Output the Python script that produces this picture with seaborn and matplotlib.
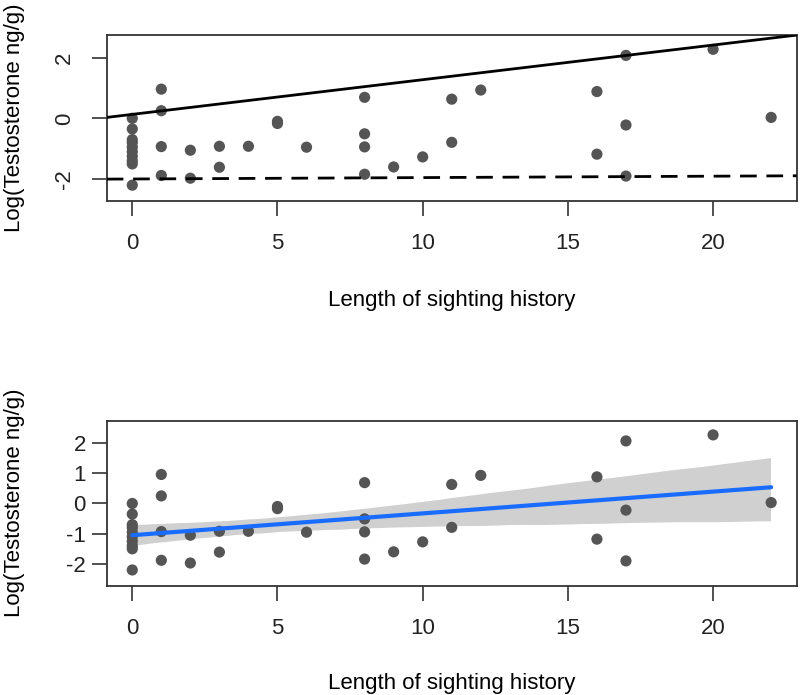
import numpy as np
import pandas as pd
import matplotlib
matplotlib.use('Agg')
import matplotlib.pyplot as plt
import seaborn as sns

# sighting history (years) and log testosterone
history = [0, 0, 0, 0, 0, 0, 0, 0, 0, 0,
           1, 1, 1, 1,
           2, 2,
           3, 3,
           4,
           5, 5,
           6,
           8, 8, 8, 8,
           9,
           10,
           11, 11,
           12,
           16, 16,
           17, 17, 17,
           20,
           22]
log_testo = [0.0, -0.35, -0.7, -0.8, -0.95, -1.1, -1.25, -1.4, -1.5, -2.2,
             0.96, 0.25, -0.93, -1.88,
             -1.05, -1.97,
             -0.92, -1.61,
             -0.92,
             -0.1, -0.17,
             -0.95,
             0.69, -0.51, -0.94, -1.84,
             -1.6,
             -1.27,
             0.63, -0.79,
             0.93,
             0.88, -1.18,
             2.07, -0.22, -1.9,
             2.27,
             0.03]

# reference lines in the upper panel (intercept, slope)
upper_line = [0.13, 0.114]
lower_line = [-1.996, 0.0046]

xticks = [0, 5, 10, 15, 20]

df = pd.DataFrame({'history': history, 'log_testo': log_testo})

sns.set_style('white')
plt.rcParams['font.family'] = ['Liberation Sans', 'DejaVu Sans']
plt.rcParams['axes.unicode_minus'] = False
plt.rcParams['text.color'] = 'black'
plt.rcParams['axes.labelcolor'] = 'black'
plt.rcParams['xtick.color'] = '#222222'
plt.rcParams['ytick.color'] = '#222222'

fig = plt.figure(figsize=(8, 6.95), dpi=100)
ax1 = fig.add_axes([0.1334, 0.7108, 0.8625, 0.2388])
ax2 = fig.add_axes([0.1334, 0.1573, 0.8625, 0.2374])

pt_col = '#555555'
xlim = (-0.88, 22.88)
ylim = (-2.72, 2.74)

# upper panel: points with two straight lines
sns.scatterplot(data=df, x='history', y='log_testo', ax=ax1, color=pt_col,
                s=65, edgecolor='none', zorder=3)
xs = np.array(xlim)
ax1.plot(xs, upper_line[0] + upper_line[1] * xs, color='black', lw=2, zorder=4)
ax1.plot(xs, lower_line[0] + lower_line[1] * xs, color='black', lw=2,
         ls=(0, (6, 3.5)), zorder=4)
ax1.set_yticks([-2, 0, 2])
ax1.set_yticklabels(['-2', '0', '2'], rotation=90, va='center')

# lower panel: linear fit with confidence band
sns.regplot(data=df, x='history', y='log_testo', ax=ax2, ci=95,
            scatter_kws={'color': pt_col, 's': 65, 'edgecolor': 'none',
                         'alpha': 1, 'zorder': 3},
            line_kws={'color': '#1a6cff', 'lw': 3, 'zorder': 4})
for coll in ax2.collections[1:]:
    coll.set_facecolor('#d0d0d0')
    coll.set_alpha(1)
ax2.set_yticks([-2, -1, 0, 1, 2])

for ax, ypad in [(ax1, 12), (ax2, 4)]:
    ax.set_xlim(xlim)
    ax.set_ylim(ylim)
    ax.set_xticks(xticks)
    for sp in ax.spines.values():
        sp.set_color('#333333')
        sp.set_linewidth(1.3)
    ax.tick_params(axis='x', bottom=True, length=11, width=1.2,
                   color='#333333', labelsize=16, pad=12)
    ax.tick_params(axis='y', left=True, length=11, width=1.2,
                   color='#333333', labelsize=16, pad=ypad)
    ax.set_xlabel('Length of sighting history', fontsize=16)
    ax.set_ylabel('Log(Testosterone ng/g)', fontsize=16)

ax1.xaxis.set_label_coords(0.5, -0.536)
ax2.xaxis.set_label_coords(0.5, -0.529)
ax1.yaxis.set_label_coords(-0.118, 0.5)
ax2.yaxis.set_label_coords(-0.118, 0.5)

plt.savefig('out.png', dpi=100)
